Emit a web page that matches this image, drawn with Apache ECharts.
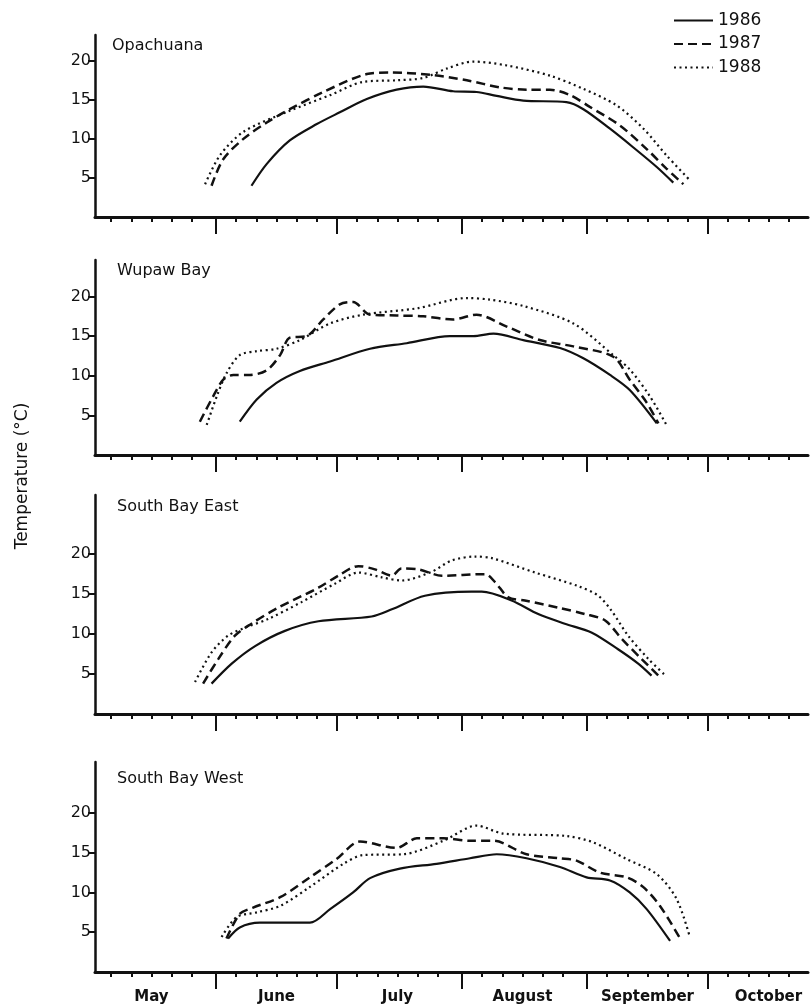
<!DOCTYPE html>
<html>
<head>
<meta charset="utf-8">
<title>Water temperature</title>
<script src="https://cdn.jsdelivr.net/npm/echarts@6/dist/echarts.min.js"></script>
<style>
  html, body { margin: 0; background: #fff; }
  #chart { width: 812px; height: 1008px; }
</style>
</head>
<body>
<div id="chart"></div>
<script>
// x = days after May 1, y = temperature (°C)
const years = ['1986', '1987', '1988']
const sites = ['Opachuana', 'Wupaw Bay', 'South Bay East', 'South Bay West']
const months = ['May', 'June', 'July', 'August', 'September', 'October']
const monthStarts = [0, 31, 61, 92, 123, 153]
const tempTicks = [5, 10, 15, 20]

// Opachuana
const opa86 = [[39.8, 4.0], [43.6, 6.8], [49.3, 9.8], [56.0, 11.9], [61.7, 13.4], [68.4, 15.1], [75.8, 16.3], [82.4, 16.7], [89.8, 16.1], [95.6, 16.0], [100.6, 15.5], [107.2, 14.9], [117.9, 14.7], [122.1, 13.8], [128.7, 11.3], [134.5, 8.9], [140.3, 6.4], [144.4, 4.4]]
const opa87 = [[29.9, 4.0], [32.8, 7.4], [37.8, 10.0], [43.6, 12.1], [49.3, 13.8], [57.6, 16.0], [68.4, 18.3], [74.1, 18.5], [84.1, 18.2], [93.2, 17.5], [101.4, 16.6], [108.0, 16.3], [113.8, 16.3], [118.8, 15.6], [123.7, 14.1], [131.2, 11.7], [137.8, 8.7], [142.7, 6.2], [146.9, 4.2]]
const opa88 = [[28.3, 4.2], [32.0, 7.9], [37.8, 10.9], [49.3, 13.6], [59.3, 15.6], [67.5, 17.3], [75.8, 17.5], [82.4, 17.8], [88.2, 19.0], [94.8, 19.9], [103.1, 19.4], [113.8, 18.1], [122.1, 16.4], [130.3, 14.3], [137.0, 11.3], [142.7, 7.9], [148.5, 4.7]]

// Wupaw Bay
const wup86 = [[36.9, 4.2], [41.1, 7.0], [46.0, 9.1], [51.8, 10.6], [59.3, 11.8], [69.2, 13.4], [78.3, 14.1], [89.0, 15.0], [94.8, 15.0], [99.8, 15.3], [107.2, 14.5], [116.3, 13.5], [122.1, 12.2], [128.7, 10.1], [133.6, 8.2], [140.3, 4.0]]
const wup87 = [[27.0, 4.2], [30.3, 7.4], [32.8, 9.5], [35.3, 10.1], [39.4, 10.1], [43.6, 10.7], [46.9, 12.6], [49.3, 14.8], [53.5, 15.0], [57.6, 17.1], [61.7, 19.0], [65.0, 19.3], [69.2, 17.7], [75.8, 17.6], [82.4, 17.5], [89.8, 17.1], [95.6, 17.7], [103.1, 16.2], [111.3, 14.5], [119.6, 13.7], [129.5, 12.4], [133.6, 9.5], [137.8, 6.6], [140.7, 4.0]]
const wup88 = [[28.7, 3.8], [31.2, 7.4], [33.6, 10.3], [36.9, 12.6], [41.1, 13.1], [46.0, 13.4], [51.8, 14.5], [59.3, 16.6], [67.5, 17.7], [80.8, 18.5], [93.2, 19.8], [98.9, 19.6], [107.2, 18.8], [119.6, 16.6], [129.5, 12.6], [133.6, 10.8], [138.6, 7.4], [142.7, 3.8]]

// South Bay East
const sbe86 = [[29.9, 3.8], [34.9, 6.3], [40.7, 8.5], [48.1, 10.4], [56.4, 11.6], [69.6, 12.2], [74.6, 13.1], [82.8, 14.8], [94.4, 15.3], [96.9, 15.3], [104.3, 14.2], [110.9, 12.5], [117.5, 11.3], [124.1, 10.2], [130.7, 8.1], [135.7, 6.3], [139.0, 4.8]]
const sbe87 = [[27.8, 3.8], [31.6, 6.9], [35.7, 9.8], [39.8, 11.3], [46.4, 13.3], [56.4, 15.8], [61.3, 17.3], [66.3, 18.5], [70.4, 18.1], [74.6, 17.3], [77.0, 18.2], [81.2, 18.1], [87.0, 17.3], [97.7, 17.5], [100.2, 16.5], [103.5, 14.6], [107.6, 14.2], [115.9, 13.3], [122.5, 12.5], [127.5, 11.7], [131.6, 9.4], [136.5, 6.9], [140.7, 4.8]]
const sbe88 = [[25.8, 4.0], [29.9, 7.7], [34.0, 9.8], [38.2, 10.8], [44.0, 11.9], [52.2, 14.0], [60.5, 16.3], [66.3, 17.7], [72.1, 17.1], [77.0, 16.7], [84.5, 17.8], [89.4, 19.2], [95.2, 19.7], [99.4, 19.5], [110.1, 17.7], [120.8, 16.0], [125.8, 14.8], [129.1, 12.9], [133.2, 9.8], [138.2, 6.9], [142.7, 4.7]]

// South Bay West
const sbw86 = [[34.0, 4.2], [36.9, 5.6], [41.9, 6.2], [54.3, 6.2], [59.3, 7.9], [65.0, 10.0], [69.2, 11.8], [76.6, 13.0], [85.7, 13.6], [94.0, 14.3], [100.6, 14.8], [108.0, 14.3], [116.3, 13.2], [122.9, 11.9], [128.7, 11.5], [133.6, 10.0], [137.8, 7.9], [143.6, 3.9]]
const sbw87 = [[33.6, 4.2], [36.9, 7.3], [40.2, 8.1], [46.9, 9.4], [54.3, 11.9], [60.9, 14.2], [66.7, 16.4], [75.8, 15.6], [80.8, 16.8], [87.4, 16.8], [94.0, 16.5], [99.8, 16.5], [108.0, 14.8], [116.3, 14.3], [120.4, 14.0], [126.2, 12.5], [132.8, 11.9], [136.9, 10.7], [141.1, 8.3], [146.1, 4.2]]
const sbw88 = [[32.4, 4.4], [36.1, 6.9], [41.1, 7.5], [46.9, 8.3], [54.3, 10.7], [62.6, 13.6], [67.5, 14.7], [77.4, 14.8], [87.4, 16.5], [95.6, 18.4], [102.2, 17.4], [117.9, 17.1], [124.5, 16.3], [132.8, 14.2], [140.3, 12.3], [145.2, 9.2], [148.5, 4.4]]

const siteData = [
  [opa86, opa87, opa88],
  [wup86, wup87, wup88],
  [sbe86, sbe87, sbe88],
  [sbw86, sbw87, sbw88]
]

// layout of the four stacked panels
const panels = [
  { top: 35, height: 182, max: 23.3, titleTop: 38 },
  { top: 260, height: 195, max: 24.6, titleTop: 263 },
  { top: 495, height: 219, max: 27.4, titleTop: 499 },
  { top: 762, height: 210, max: 26.4, titleTop: 771 }
]

const font = 'DejaVu Sans'
const ink = '#111'
const xMin = 1
const xMax = 177.8

const majorTicks = monthStarts.slice(1)
const minorTicks = []
monthStarts.forEach(m => {
  [5, 10, 15, 20, 25].forEach(k => { if (m + k < xMax) minorTicks.push(m + k) })
})
const labelDays = monthStarts.map(m => m + 15)

const lineStyles = {
  '1986': { type: 'solid', width: 2.2 },
  '1987': { type: [9, 5], width: 2.5 },
  '1988': { type: [2, 3.5], width: 2.2 }
}

const grid = []
const xAxis = []
const yAxis = []
const series = []
const title = []

panels.forEach((p, i) => {
  const last = i === panels.length - 1
  grid.push({ left: 95, width: 713, top: p.top, height: p.height })
  title.push({
    text: sites[i], left: i === 0 ? 112 : 117, top: p.titleTop, padding: 0,
    textStyle: { fontFamily: font, fontSize: 16, fontWeight: 'normal', color: ink }
  })
  // main axis: month ticks (long) and month names on the last panel
  xAxis.push({
    type: 'value', gridIndex: i, min: xMin, max: xMax, position: 'bottom',
    axisLine: { show: true, onZero: false, lineStyle: { color: ink, width: 3 } },
    axisTick: { show: true, length: 17, customValues: majorTicks, lineStyle: { color: ink, width: 2 } },
    axisLabel: {
      show: last, customValues: labelDays, margin: 18,
      fontFamily: font, fontSize: 15, fontWeight: 'bold', color: ink,
      formatter: v => months[labelDays.indexOf(v)] || ''
    },
    splitLine: { show: false }
  })
  // 5-day ticks
  xAxis.push({
    type: 'value', gridIndex: i, min: xMin, max: xMax, position: 'bottom',
    axisLine: { show: false, onZero: false },
    axisTick: { show: true, length: 5, customValues: minorTicks, lineStyle: { color: ink, width: 2 } },
    axisLabel: { show: false },
    splitLine: { show: false }
  })
  yAxis.push({
    type: 'value', gridIndex: i, min: 0, max: p.max,
    axisLine: { show: true, lineStyle: { color: ink, width: 2.5 } },
    axisTick: { show: true, length: 7, customValues: tempTicks, lineStyle: { color: ink, width: 2 } },
    axisLabel: { customValues: tempTicks, margin: 4, fontFamily: font, fontSize: 16, color: ink },
    splitLine: { show: false }
  })
  years.forEach((y, j) => {
    series.push({
      name: y, type: 'line', xAxisIndex: i * 2, yAxisIndex: i,
      data: siteData[i][j], symbol: 'none', smooth: 0.3,
      lineStyle: Object.assign({ color: ink }, lineStyles[y]),
      itemStyle: { color: ink },
      silent: true
    })
  })
})

const chart = echarts.init(document.getElementById('chart'))
chart.setOption({
  backgroundColor: '#fff',
  animation: false,
  title: title,
  legend: {
    data: years, orient: 'vertical', left: 673, top: 12, padding: 0,
    itemWidth: 39, itemHeight: 14, itemGap: 6.5, selectedMode: false,
    itemStyle: { opacity: 0, color: 'transparent', borderWidth: 0 },
    textStyle: { fontFamily: font, fontSize: 17, color: ink }
  },
  grid: grid,
  xAxis: xAxis,
  yAxis: yAxis,
  series: series,
  graphic: [{
    type: 'text', x: 23, y: 476, rotation: Math.PI / 2,
    style: {
      text: 'Temperature (°C)', fontFamily: font, fontSize: 17, fill: ink,
      textAlign: 'center', textVerticalAlign: 'middle'
    }
  }]
})
</script>
</body>
</html>
